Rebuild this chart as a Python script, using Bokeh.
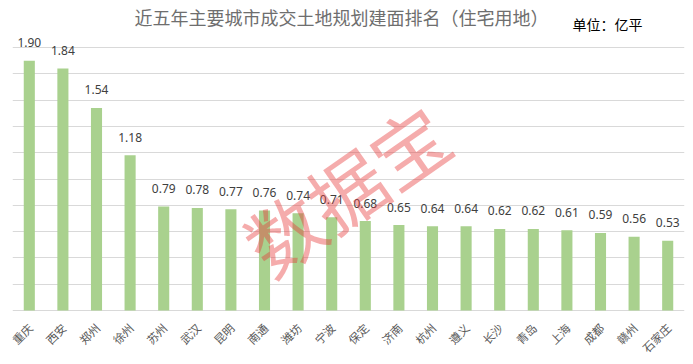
import math
from bokeh.plotting import figure
from bokeh.models import Range1d, FixedTicker, ColumnDataSource, Label
from bokeh.core.properties import value
from bokeh.embed import file_html
from bokeh.resources import INLINE

cities = ["重庆", "西安", "郑州", "徐州", "苏州", "武汉", "昆明", "南通", "潍坊", "宁波",
          "保定", "济南", "杭州", "遵义", "长沙", "青岛", "上海", "成都", "赣州", "石家庄"]
areas = [1.90, 1.84, 1.54, 1.18, 0.79, 0.78, 0.77, 0.76, 0.74, 0.71,
         0.68, 0.65, 0.64, 0.64, 0.62, 0.62, 0.61, 0.59, 0.56, 0.53]
grid_ticks = [0.0, 0.2, 0.4, 0.6, 0.8, 1.0, 1.2, 1.4, 1.6, 1.8, 2.0]
title_text = "近五年主要城市成交土地规划建面排名（住宅用地）"
unit_text = "单位：亿平"
watermark_text = "数据宝"

idx = list(range(len(cities)))
src = ColumnDataSource(dict(x=idx, y=areas, lab=[f"{v:.2f}" for v in areas],
                            city=cities, zero=[0.0] * len(cities)))

PX = 131.5   # pixels per unit
BASE = 310   # pixel row of zero
H = 356
p = figure(width=685, height=H, output_backend="svg", toolbar_location=None,
           x_range=Range1d(-0.5, len(cities) - 0.5),
           y_range=Range1d(-(H - BASE) / PX, BASE / PX),
           min_border_left=12, min_border_right=1, min_border_top=0, min_border_bottom=0)
p.outline_line_color = None
p.background_fill_color = "white"
p.border_fill_color = "white"
p.xaxis.visible = False
p.yaxis.visible = False
p.ygrid.ticker = FixedTicker(ticks=grid_ticks)
p.ygrid.grid_line_color = "#d9d9d9"
p.xgrid.grid_line_color = None

p.vbar(x="x", top="y", width=0.33, source=src, color="#a9d18e", line_color=None)

# watermark
p.add_layout(Label(x=9.41, y=0.93, text=watermark_text, angle=math.radians(35),
                   text_align="center", text_baseline="middle",
                   text_font="Noto Sans CJK SC", text_font_size="76px",
                   text_color="#e83a3a", text_alpha=0.42))

p.text(x="x", y="y", text="lab", source=src, text_align="center", text_baseline="middle",
       y_offset=-18, text_font=value("Noto Sans"), text_font_size="12px", text_color="#404040")

# category labels (rotated)
p.text(x="x", y="zero", text="city", source=src, angle=math.pi / 4,
       text_align="right", text_baseline="middle", x_offset=1, y_offset=15,
       text_line_height=1.0,
       text_font=value("Noto Sans CJK SC"), text_font_size="11.5px", text_color="#595959")

p.add_layout(Label(x=9.29, y=(BASE - 16.5) / PX, text=title_text, text_align="center",
                   text_baseline="middle", text_font="Noto Sans CJK SC", text_font_size="18px",
                   text_color="#6e6e6e"))
p.add_layout(Label(x=16.17, y=(BASE - 23.5) / PX, text=unit_text, text_align="left",
                   text_baseline="middle", text_font="Noto Sans CJK SC", text_font_size="14px",
                   text_color="#000000"))

open("out.html", "w").write(file_html(p, INLINE))
